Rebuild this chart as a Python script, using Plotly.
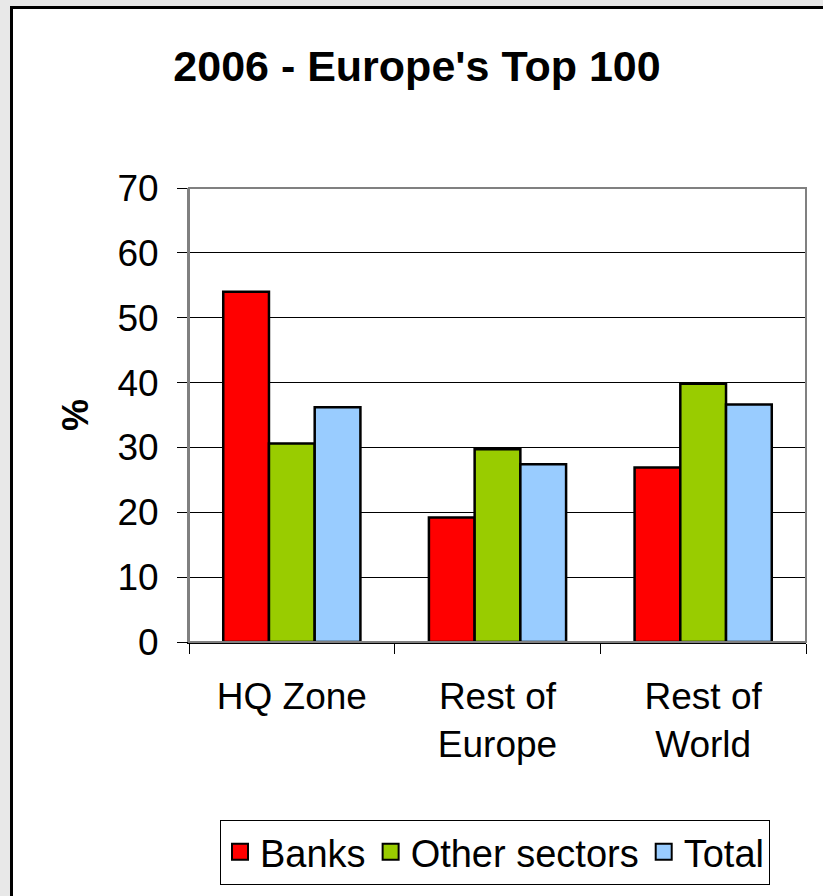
import plotly.graph_objects as go

categories = ["HQ Zone", "Rest of<br>Europe", "Rest of<br>World"]
series_names = ["Banks", "Other sectors", "Total"]
banks = [54.0, 19.2, 26.9]
other_sectors = [30.6, 29.7, 39.8]
total = [36.2, 27.4, 36.6]
y_ticks = [0, 10, 20, 30, 40, 50, 60, 70]
colors = ["#FF0000", "#99CC00", "#99CCFF"]

W, H = 823, 896
L, R, T, B = 189, 806, 188, 642  # plot area pixel bounds

def px(x):
    return (x - L) / (R - L)

def py(y):
    return (B - y) / (B - T)

FONT = "Liberation Sans, Arial, sans-serif"
edge = dict(color="black", width=2.5)

fig = go.Figure()
for name, vals, col in zip(series_names, [banks, other_sectors, total], colors):
    fig.add_trace(go.Bar(name=name, x=categories, y=vals, showlegend=False,
                         legendgroup=name,
                         marker=dict(color=col, line=edge)))
# legend entries (larger square keys, like the original)
for name, col in zip(series_names, colors):
    fig.add_trace(go.Scatter(name=name, x=[None], y=[None], mode="markers",
                             legendgroup=name,
                             marker=dict(symbol="square", size=16, color=col,
                                         line=dict(color="black", width=2))))

fig.update_layout(
    width=W, height=H,
    margin=dict(l=L, r=W - R, t=T, b=H - B, pad=0),
    paper_bgcolor="#E8E8E8",
    plot_bgcolor="white",
    barmode="group",
    bargap=0.333,
    bargroupgap=0,
    font=dict(family=FONT, color="black", size=37),
    title=dict(text="<b>2006 - Europe's Top 100</b>",
               font=dict(family=FONT, size=43, color="black"),
               x=417 / W, xanchor="center", y=1 - 66 / H, yanchor="middle"),
    xaxis=dict(showline=True, linecolor="black", linewidth=1.5,
               ticks="outside", ticklen=10, tickcolor="black", tickwidth=1,
               tickson="boundaries", showgrid=False,
               tickfont=dict(size=37), ticklabelstandoff=21),
    yaxis=dict(range=[0, 70], tickvals=y_ticks, showline=True,
               linecolor="#808080", linewidth=2,
               ticks="outside", ticklen=10, tickcolor="black", tickwidth=1,
               showgrid=True, gridcolor="black", gridwidth=1,
               tickfont=dict(size=37), ticklabelstandoff=11,
               zeroline=False,
               title=dict(text="<b>%</b>", font=dict(size=36), standoff=18)),
    legend=dict(orientation="h", x=px(495), xanchor="center",
                y=py(852), yanchor="middle",
                bgcolor="white", bordercolor="black", borderwidth=1,
                font=dict(size=38), itemwidth=30, itemsizing="trace"),
    shapes=[
        # white panel with black frame
        dict(type="rect", xref="paper", yref="paper",
             x0=px(11.5), x1=px(W + 20), y0=py(H + 20), y1=py(7.5),
             fillcolor="white", line=dict(color="black", width=3),
             layer="below"),
        # plot area border (gray)
        dict(type="rect", xref="paper", yref="paper",
             x0=0, x1=1, y0=0, y1=1,
             line=dict(color="#808080", width=2), layer="above"),
    ],
)

fig.write_html("out.html")
